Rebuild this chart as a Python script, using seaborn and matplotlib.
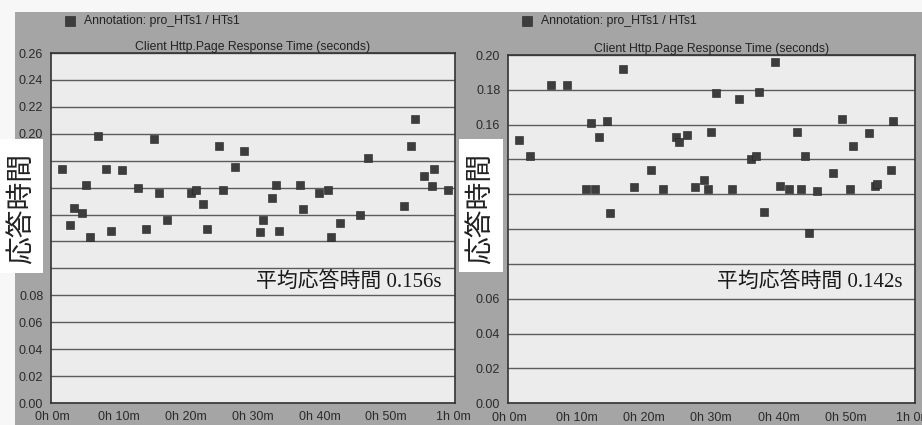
import numpy as np
import pandas as pd
import matplotlib
matplotlib.use("Agg")
import matplotlib.pyplot as plt
from matplotlib.patches import Rectangle
import seaborn as sns

# Values (minutes into the run, seconds)
left_minutes = [1.5, 2.7, 3.2, 4.4, 5.1, 5.6, 6.8, 8.1, 8.8, 10.5, 12.9, 14.1, 15.2, 16.0, 17.2,
                20.8, 21.5, 22.6, 23.2, 25.0, 25.6, 27.4, 28.7, 31.1, 31.6, 32.9, 33.5, 34.0,
                37.1, 37.6, 40.0, 41.3, 41.8, 43.1, 46.1, 47.3, 52.6, 53.7, 54.3, 55.6, 56.8,
                57.2, 59.2]
left_times = [0.174, 0.132, 0.145, 0.141, 0.162, 0.123, 0.198, 0.174, 0.128, 0.173, 0.160, 0.129,
              0.196, 0.156, 0.136, 0.156, 0.158, 0.148, 0.129, 0.191, 0.158, 0.175, 0.187, 0.127,
              0.136, 0.152, 0.162, 0.128, 0.162, 0.144, 0.156, 0.158, 0.123, 0.134, 0.140, 0.182,
              0.146, 0.191, 0.211, 0.169, 0.161, 0.174, 0.158]

right_minutes = [1.5, 3.1, 6.2, 8.6, 11.4, 12.2, 12.7, 13.4, 14.5, 15.0, 16.9, 18.6, 21.1, 22.8,
                 24.7, 25.2, 26.4, 27.6, 28.9, 29.5, 30.0, 30.7, 33.1, 34.2, 35.9, 36.7, 37.1,
                 37.8, 39.5, 40.3, 41.5, 42.7, 43.3, 43.9, 44.6, 45.8, 48.1, 49.4, 50.6, 51.1,
                 53.4, 54.3, 54.7, 56.7, 57.1]
right_times = [0.151, 0.142, 0.1825, 0.1825, 0.123, 0.161, 0.123, 0.153, 0.162, 0.109, 0.192, 0.124,
               0.134, 0.123, 0.153, 0.150, 0.154, 0.124, 0.128, 0.123, 0.156, 0.178, 0.123, 0.175,
               0.140, 0.142, 0.179, 0.110, 0.196, 0.125, 0.123, 0.156, 0.123, 0.142, 0.098, 0.122,
               0.132, 0.163, 0.123, 0.148, 0.155, 0.125, 0.126, 0.134, 0.162]

x_ticks = [0, 10, 20, 30, 40, 50, 60]
x_labels = ["0h 0m", "0h 10m", "0h 20m", "0h 30m", "0h 40m", "0h 50m", "1h 0m"]
# y tick labels that stay visible (the rest sit under the pasted label box)
left_ylabels = ["0.00", "0.02", "0.04", "0.06", "0.08", "", "", "", "", "", "0.20", "0.22", "0.24", "0.26"]
right_ylabels = ["0.00", "0.02", "0.04", "0.06", "", "", "", "", "0.16", "0.18", "0.20"]
chart_title = "Client Http.Page Response Time (seconds)"
legend_label = "Annotation: pro_HTs1 / HTs1"
ylabel_text = "応答時間"
left_note = "平均応答時間 0.156s"
right_note = "平均応答時間 0.142s"

W, H = 922, 425
sns.set_style("white")
plt.rcParams["font.family"] = ["Liberation Sans", "DejaVu Sans"]

fig = plt.figure(figsize=(W / 100, H / 100), dpi=100)
fig.patch.set_facecolor("#f7f7f7")


def px_rect(x0, y0, x1, y1, color, z):
    # rectangle given in image pixels (top-left origin)
    r = Rectangle((x0 / W, 1 - y1 / H), (x1 - x0) / W, (y1 - y0) / H,
                  transform=fig.transFigure, facecolor=color, edgecolor="none", zorder=z)
    fig.patches.append(r)


# grey chart background of the screenshot
px_rect(15, 12, W, H, "#a5a5a5", -10)


def draw_panel(rect, minutes, times, ymax, ylabels, legend_x):
    x0, y0, x1, y1 = rect
    ax = fig.add_axes([x0 / W, 1 - y1 / H, (x1 - x0) / W, (y1 - y0) / H])
    ax.set_facecolor("#ececec")
    df = pd.DataFrame({"minute": minutes, "time": times})
    sns.scatterplot(data=df, x="minute", y="time", ax=ax, marker="s", s=34,
                    color="#3d3d3d", edgecolor="#222222", linewidth=0.4,
                    label=legend_label, zorder=3)
    ax.set_xlim(-0.2, 60.3)
    ax.set_ylim(0, ymax)
    ax.set_yticks(np.round(np.arange(0, ymax + 0.001, 0.02), 2))
    ax.set_yticklabels(ylabels)
    ax.set_xticks(x_ticks)
    ax.set_xticklabels(x_labels)
    ax.grid(axis="y", color="#5c5c5c", linewidth=1.0)
    ax.grid(axis="x", visible=False)
    ax.set_axisbelow(True)
    for sp in ax.spines.values():
        sp.set_color("#333333")
        sp.set_linewidth(1.2)
    ax.tick_params(axis="both", which="major", direction="out", length=4, width=1,
                   color="#333333", labelsize=9, labelcolor="#2b2b2b", pad=1.5)
    ax.tick_params(axis="x", pad=2)
    ax.set_xlabel("")
    ax.set_ylabel("")
    ax.set_title(chart_title, fontsize=8.8, color="#222222", pad=2.5)
    ax.legend(loc="center left", bbox_to_anchor=(legend_x / W, 1 - 21 / H),
              bbox_transform=fig.transFigure, frameon=False, fontsize=8.8,
              handletextpad=0.1, borderaxespad=0, borderpad=0, markerscale=1.15,
              labelcolor="#222222")
    return ax


ax1 = draw_panel((51, 53, 455, 403), left_minutes, left_times, 0.26, left_ylabels, 58)
ax2 = draw_panel((508, 55, 915, 403.3), right_minutes, right_times, 0.20, right_ylabels, 515)

# white label boxes pasted over the y axis
px_rect(0, 139, 43, 273, "white", 5)
px_rect(459, 139, 503, 272, "white", 5)
cjk = ["Noto Sans CJK JP", "DejaVu Sans"]
fig.text(22 / W, 1 - 208 / H, ylabel_text, rotation=90, ha="center", va="center",
         fontsize=20, family=cjk, color="#222222", zorder=6)
fig.text(481 / W, 1 - 208 / H, ylabel_text, rotation=90, ha="center", va="center",
         fontsize=20, family=cjk, color="#222222", zorder=6)

note_fam = ["Liberation Serif", "Noto Sans CJK JP"]
fig.text(441 / W, 1 - 282 / H, left_note, ha="right", va="center", fontsize=15,
         family=note_fam, color="#1a1a1a", zorder=6)
fig.text(902 / W, 1 - 282 / H, right_note, ha="right", va="center", fontsize=15,
         family=note_fam, color="#1a1a1a", zorder=6)

fig.savefig("out.png", dpi=100)
